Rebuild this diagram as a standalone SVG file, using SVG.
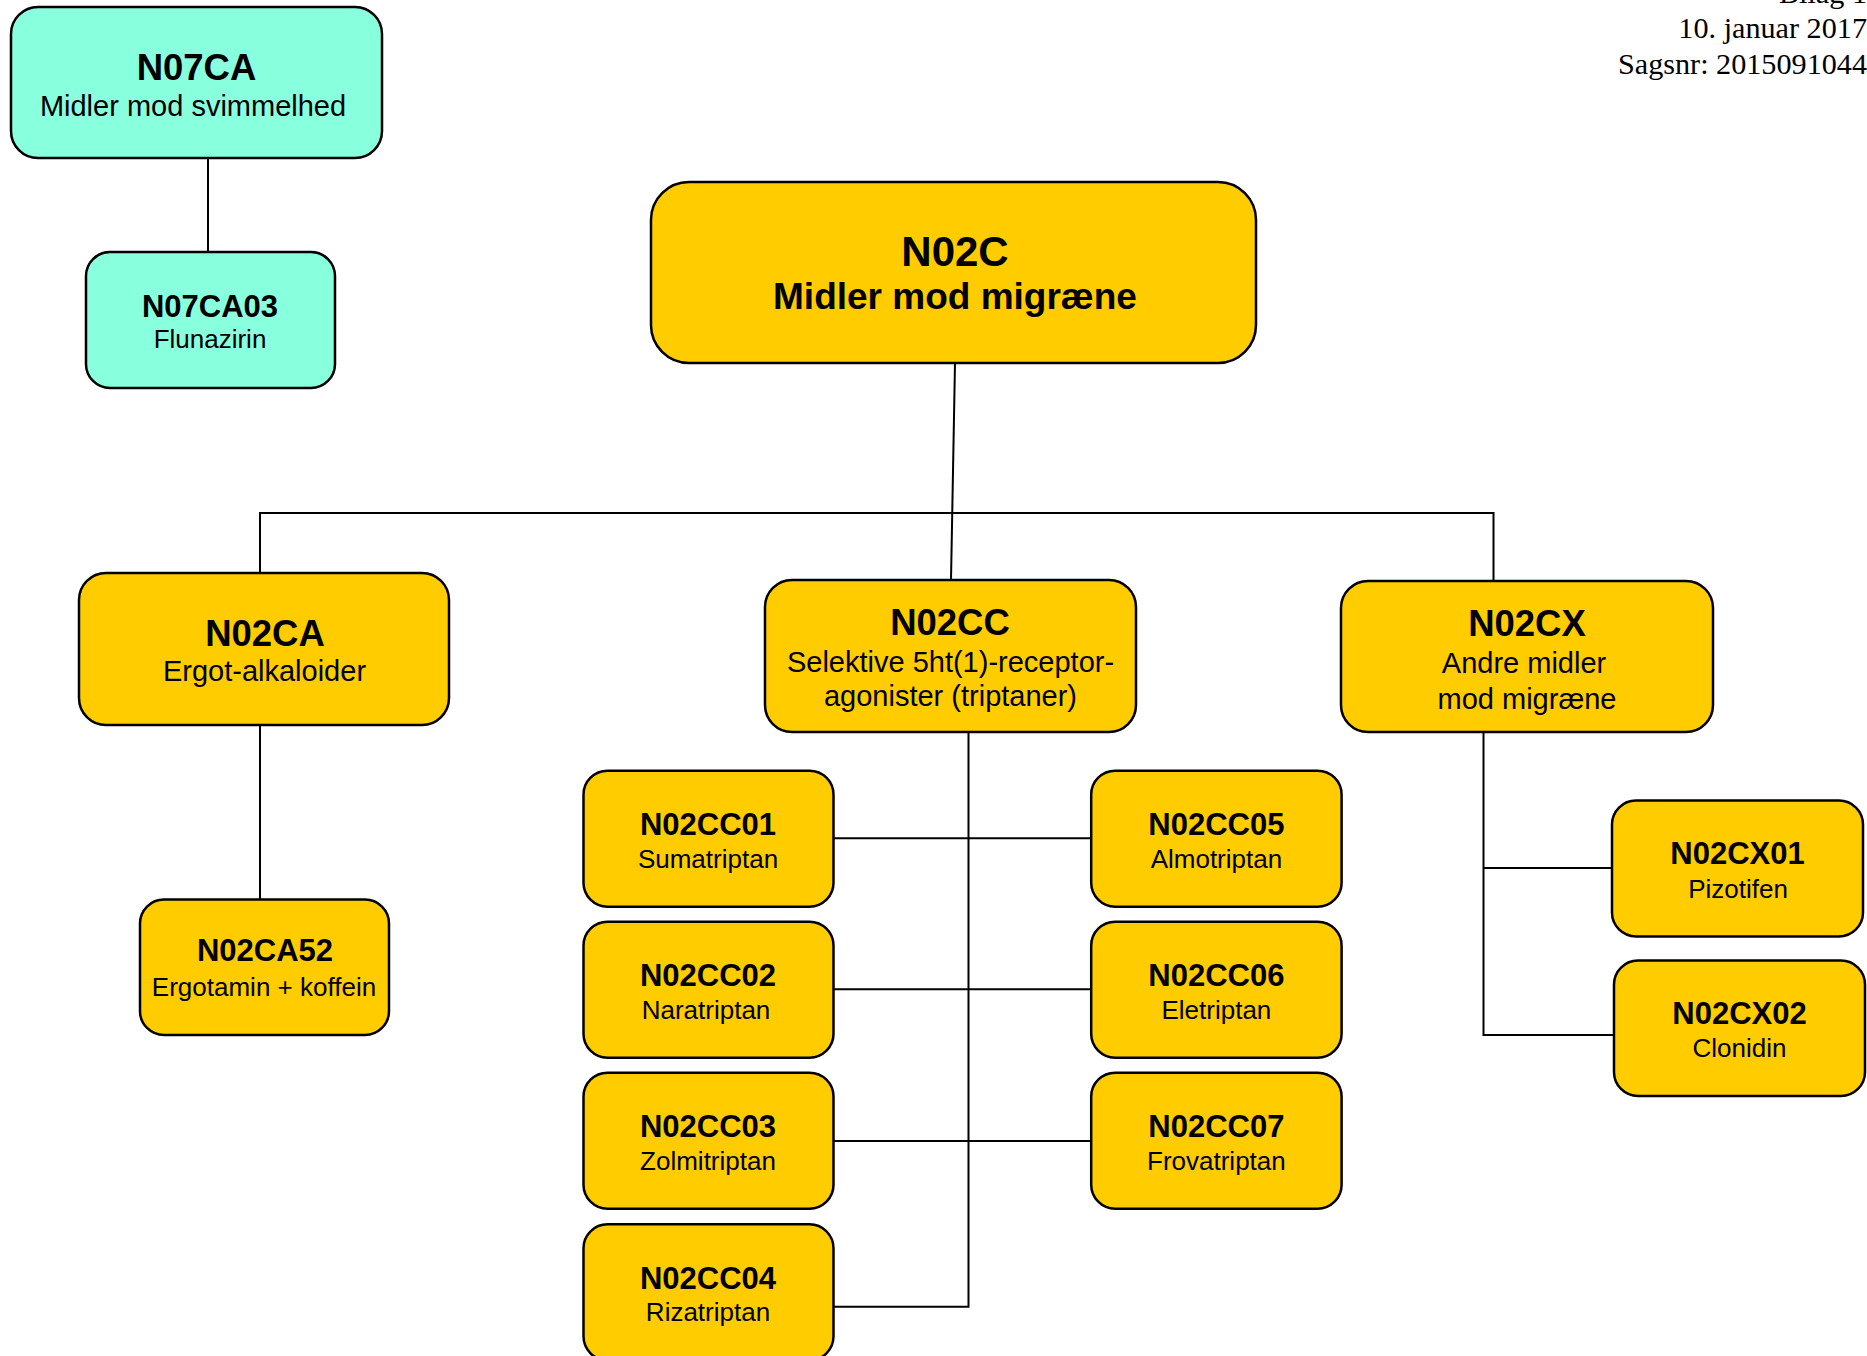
<svg xmlns="http://www.w3.org/2000/svg" width="1867" height="1356" viewBox="0 0 1867 1356">
<style>
.bg{fill:#FFFFFF}
.y{fill:#FFCC00;stroke:#000;stroke-width:2.5}
.c{fill:#88FFDD;stroke:#000;stroke-width:2.5}
.t{font-family:"Liberation Sans",Arial,sans-serif;text-anchor:middle;fill:#000}
.b{font-weight:bold}
.h1{font-size:36.5px}
.s1{font-size:29px}
.h2{font-size:31px}
.s2{font-size:26px}
.hdr{font-family:"Liberation Serif","Times New Roman",serif;font-size:30.2px;text-anchor:end;fill:#000}
.ln{fill:none;stroke:#000;stroke-width:2}
</style>
<rect class="bg" x="0" y="0" width="1867" height="1356"/>
<g id="header">
<text class="hdr" x="1867" y="3">Bilag 1</text>
<text class="hdr" x="1867" y="37.5">10. januar 2017</text>
<text class="hdr" x="1867" y="74">Sagsnr: 2015091044</text>
</g>
<g id="connectors">
<path class="ln" d="M208,158 V252"/>
<path class="ln" d="M955,363 L951,580"/>
<path class="ln" d="M260,573 V513 H1493.5 V581"/>
<path class="ln" d="M260,725 V899.5"/>
<path class="ln" d="M968.5,732 V1306.7 H833.5"/>
<path class="ln" d="M833.5,838.3 H1091.2"/>
<path class="ln" d="M833.5,989.3 H1091.2"/>
<path class="ln" d="M833.5,1141 H1091.2"/>
<path class="ln" d="M1483.5,732 V1035 H1614"/>
<path class="ln" d="M1483.5,868 H1612"/>
</g>
<g id="N07CA">
<rect class="c" x="11" y="7" width="371" height="151" rx="27"/>
<text class="t b h1" x="196.5" y="80">N07CA</text>
<text class="t s1" x="193" y="116">Midler mod svimmelhed</text>
</g>
<g id="N07CA03">
<rect class="c" x="86" y="252" width="249" height="136" rx="24"/>
<text class="t b h2" x="210" y="317">N07CA03</text>
<text class="t s2" x="210" y="348">Flunazirin</text>
</g>
<g id="N02C">
<rect class="y" x="651" y="182" width="605" height="181" rx="38"/>
<text class="t b" x="955" y="266" font-size="42">N02C</text>
<text class="t b" x="955" y="308.5" font-size="37">Midler mod migræne</text>
</g>
<g id="N02CA">
<rect class="y" x="79" y="573" width="370" height="152" rx="27"/>
<text class="t b h1" x="265" y="646">N02CA</text>
<text class="t s1" x="264.5" y="681">Ergot-alkaloider</text>
</g>
<g id="N02CA52">
<rect class="y" x="140" y="899.5" width="249" height="135.5" rx="24"/>
<text class="t b h2" x="265" y="961">N02CA52</text>
<text class="t s2" x="264" y="996">Ergotamin + koffein</text>
</g>
<g id="N02CC">
<rect class="y" x="765" y="580" width="371" height="152" rx="27"/>
<text class="t b h1" x="950" y="635">N02CC</text>
<text class="t s1" x="950.5" y="672">Selektive 5ht(1)-receptor-</text>
<text class="t s1" x="950.5" y="706">agonister (triptaner)</text>
</g>
<g id="N02CX">
<rect class="y" x="1341" y="581" width="372" height="151" rx="27"/>
<text class="t b h1" x="1527" y="636">N02CX</text>
<text class="t s1" x="1524" y="673">Andre midler</text>
<text class="t s1" x="1527" y="708.5">mod migræne</text>
</g>
<g id="N02CC01">
<rect class="y" x="583.5" y="770.7" width="250" height="136" rx="24"/>
<text class="t b h2" x="708" y="835">N02CC01</text>
<text class="t s2" x="708" y="867.5">Sumatriptan</text>
</g>
<g id="N02CC02">
<rect class="y" x="583.5" y="921.7" width="250" height="136" rx="24"/>
<text class="t b h2" x="708" y="986">N02CC02</text>
<text class="t s2" x="706" y="1018.5">Naratriptan</text>
</g>
<g id="N02CC03">
<rect class="y" x="583.5" y="1072.7" width="250" height="136" rx="24"/>
<text class="t b h2" x="708" y="1137">N02CC03</text>
<text class="t s2" x="708" y="1169.5">Zolmitriptan</text>
</g>
<g id="N02CC04">
<rect class="y" x="583.5" y="1224.3" width="250" height="136" rx="24"/>
<text class="t b h2" x="708" y="1288.5">N02CC04</text>
<text class="t s2" x="708" y="1321">Rizatriptan</text>
</g>
<g id="N02CC05">
<rect class="y" x="1091.2" y="770.7" width="250.4" height="136" rx="24"/>
<text class="t b h2" x="1216.4" y="835">N02CC05</text>
<text class="t s2" x="1216.4" y="867.5">Almotriptan</text>
</g>
<g id="N02CC06">
<rect class="y" x="1091.2" y="921.7" width="250.4" height="136" rx="24"/>
<text class="t b h2" x="1216.4" y="986">N02CC06</text>
<text class="t s2" x="1216.4" y="1018.5">Eletriptan</text>
</g>
<g id="N02CC07">
<rect class="y" x="1091.2" y="1072.7" width="250.4" height="136" rx="24"/>
<text class="t b h2" x="1216.4" y="1137">N02CC07</text>
<text class="t s2" x="1216.4" y="1169.5">Frovatriptan</text>
</g>
<g id="N02CX01">
<rect class="y" x="1612" y="800.5" width="251" height="136" rx="24"/>
<text class="t b h2" x="1737.5" y="864">N02CX01</text>
<text class="t s2" x="1738" y="898">Pizotifen</text>
</g>
<g id="N02CX02">
<rect class="y" x="1614" y="960.5" width="251" height="135.5" rx="24"/>
<text class="t b h2" x="1739.5" y="1023.5">N02CX02</text>
<text class="t s2" x="1739.5" y="1057">Clonidin</text>
</g>
</svg>
